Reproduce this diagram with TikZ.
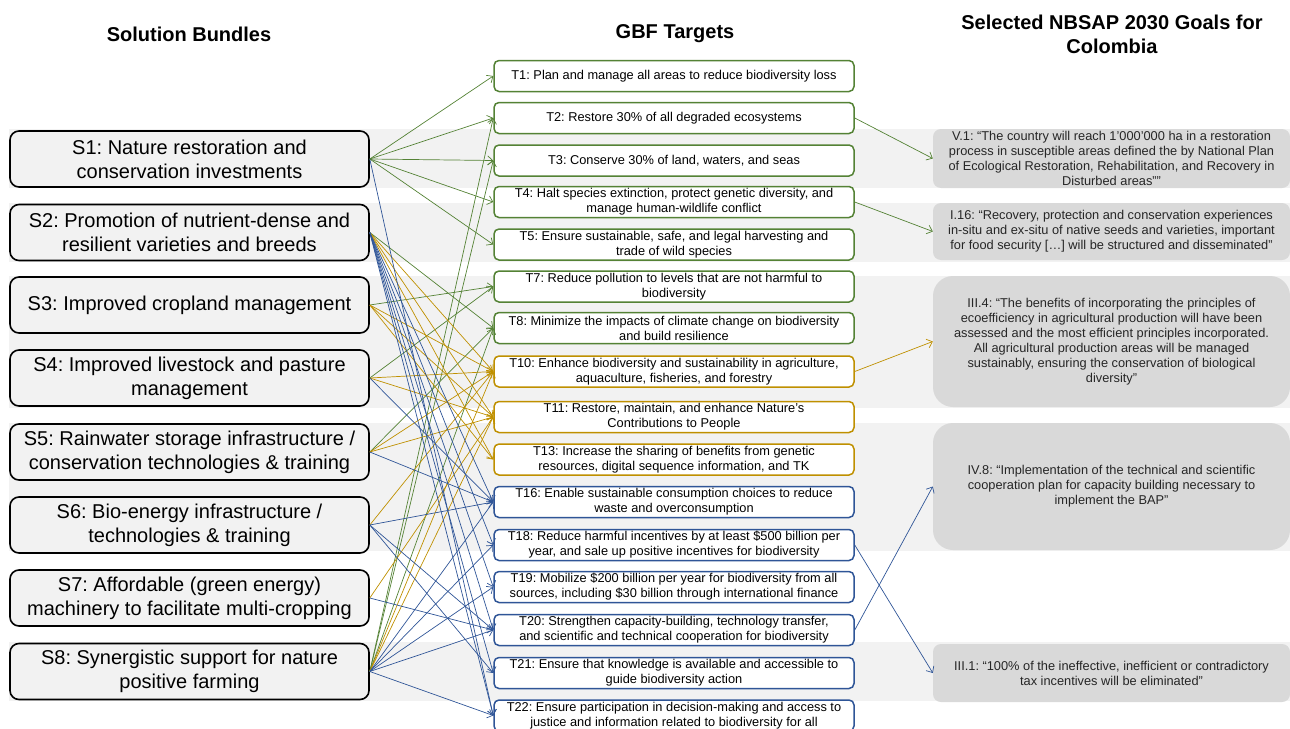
\documentclass[tikz,border=0pt]{standalone}
\usepackage{fontspec}
\setmainfont{Liberation Sans}
\usetikzlibrary{arrows.meta}
\frenchspacing

\definecolor{grn}{RGB}{84,130,53}
\definecolor{gld}{RGB}{191,144,0}
\definecolor{blu}{RGB}{47,85,151}
\definecolor{band}{RGB}{242,242,242}
\definecolor{goalfill}{RGB}{217,217,217}

\tikzset{
	bundle/.style={draw=black,line width=1.6pt,rounded corners=9pt,fill=band,
		minimum width=359pt,minimum height=56pt,align=center,inner sep=1pt,
		font=\fontsize{20}{24}\selectfont},
	target/.style={draw=#1,line width=1.5pt,rounded corners=5pt,fill=white,
		minimum width=360pt,minimum height=31pt,align=center,inner sep=1pt,
		font=\fontsize{12.8}{15}\selectfont},
	goal/.style={fill=goalfill,rounded corners=#1,minimum width=357pt,
		align=center,inner sep=1pt,text=black!85,
		font=\fontsize{12.8}{15}\selectfont},
	head/.style={font=\bfseries\fontsize{20}{24}\selectfont,align=center},
	link/.style={-{Straight Barb[length=5pt,width=9pt]},line width=0.7pt},
}

\begin{document}
\begin{tikzpicture}[x=1pt,y=-1pt]
	\useasboundingbox (0,0) rectangle (1290,728);

	% grey row bands
	\fill[band] (9,129) rectangle (1290,188);
	\fill[band] (9,203) rectangle (1290,262);
	\fill[band] (9,276) rectangle (1290,408);
	\fill[band] (9,423) rectangle (1290,551);
	\fill[band] (9,642) rectangle (1290,701);

	\node[head] (hs) at (189,34) {Solution Bundles};
	\node[head] (ht) at (675,34) {GBF Targets};
	\node[head] (hg) at (1112,34) {Selected NBSAP 2030 Goals for\\Colombia};

	% solution bundles
	\node[bundle] (s1) at (189.5,159) {S1: Nature restoration and\\conservation investments};
	\node[bundle] (s2) at (189.5,232.5) {S2: Promotion of nutrient-dense and\\resilient varieties and breeds};
	\node[bundle] (s3) at (189.5,305) {S3: Improved cropland management};
	\node[bundle] (s4) at (189.5,378) {S4: Improved livestock and pasture\\management};
	\node[bundle] (s5) at (189.5,452) {S5: Rainwater storage infrastructure /\\conservation technologies \& training};
	\node[bundle] (s6) at (189.5,525) {S6: Bio-energy infrastructure /\\technologies \& training};
	\node[bundle] (s7) at (189.5,598) {S7: Affordable (green energy)\\machinery to facilitate multi-cropping};
	\node[bundle] (s8) at (189.5,671.5) {S8: Synergistic support for nature\\positive farming};

	% GBF targets
	\node[target=grn] (t1) at (674,76) {T1: Plan and manage all areas to reduce biodiversity loss};
	\node[target=grn] (t2) at (674,118) {T2: Restore 30\% of all degraded ecosystems};
	\node[target=grn] (t3) at (674,160.5) {T3: Conserve 30\% of land, waters, and seas};
	\node[target=grn] (t4) at (674,202) {T4: Halt species extinction, protect genetic diversity, and\\manage human-wildlife conflict};
	\node[target=grn] (t5) at (674,244.5) {T5: Ensure sustainable, safe, and legal harvesting and\\trade of wild species};
	\node[target=grn] (t7) at (674,286.5) {T7: Reduce pollution to levels that are not harmful to\\biodiversity};
	\node[target=grn] (t8) at (674,328) {T8: Minimize the impacts of climate change on biodiversity\\and build resilience};
	\node[target=gld] (t10) at (674,371.5) {T10: Enhance biodiversity and sustainability in agriculture,\\aquaculture, fisheries, and forestry};
	\node[target=gld] (t11) at (674,417) {T11: Restore, maintain, and enhance Nature’s\\Contributions to People};
	\node[target=gld] (t13) at (674,459.5) {T13: Increase the sharing of benefits from genetic\\resources, digital sequence information, and TK};
	\node[target=blu] (t16) at (674,502) {T16: Enable sustainable consumption choices to reduce\\waste and overconsumption};
	\node[target=blu] (t18) at (674,545) {T18: Reduce harmful incentives by at least \$500 billion per\\year, and sale up positive incentives for biodiversity};
	\node[target=blu] (t19) at (674,587) {T19: Mobilize \$200 billion per year for biodiversity from all\\sources, including \$30 billion through international finance};
	\node[target=blu] (t20) at (674,630) {T20: Strengthen capacity-building, technology transfer,\\and scientific and technical cooperation for biodiversity};
	\node[target=blu] (t21) at (674,673) {T21: Ensure that knowledge is available and accessible to\\guide biodiversity action};
	\node[target=blu] (t22) at (674,715.5) {T22: Ensure participation in decision-making and access to\\justice and information related to biodiversity for all};

	% NBSAP goals
	\node[goal=8pt,minimum height=59pt] (v1) at (1111.5,158.5) {V.1: “The country will reach 1’000’000 ha in a restoration\\process in susceptible areas defined the by National Plan\\of Ecological Restoration, Rehabilitation, and Recovery in\\Disturbed areas””};
	\node[goal=8pt,minimum height=57pt] (i16) at (1111.5,231.5) {I.16: “Recovery, protection and conservation experiences\\in-situ and ex-situ of native seeds and varieties, important\\for food security […] will be structured and disseminated”};
	\node[goal=20pt,minimum height=131pt] (iii4) at (1111.5,341.5) {III.4: “The benefits of incorporating the principles of\\ecoefficiency in agricultural production will have been\\assessed and the most efficient principles incorporated.\\All agricultural production areas will be managed\\sustainably, ensuring the conservation of biological\\diversity”};
	\node[goal=20pt,minimum height=127pt] (iv8) at (1111.5,486.5) {IV.8: “Implementation of the technical and scientific\\cooperation plan for capacity building necessary to\\implement the BAP”};
	\node[goal=8pt,minimum height=58pt] (iii1) at (1111.5,673) {III.1: “100\% of the ineffective, inefficient or contradictory\\tax incentives will be eliminated”};

	% bundles to targets
	\foreach \s/\t in {s1/t1,s1/t2,s1/t3,s1/t4,s1/t5,s2/t8,s3/t7,s4/t7,s5/t8,s8/t2,s8/t3,s8/t8}
		\draw[link,grn] (\s.east) -- (\t.west);
	\foreach \s/\t in {s2/t10,s2/t11,s2/t13,s3/t10,s3/t11,s3/t13,s4/t10,s4/t11,s5/t10,s5/t11,s6/t10,s7/t11,s8/t10,s8/t11}
		\draw[link,gld] (\s.east) -- (\t.west);
	\foreach \s/\t in {s1/t22,s2/t16,s2/t18,s2/t19,s2/t20,s2/t21,s2/t22,s4/t16,s5/t16,s6/t16,s6/t20,s6/t21,s7/t20,s8/t16,s8/t18,s8/t19,s8/t20,s8/t22}
		\draw[link,blu] (\s.east) -- (\t.west);

	% targets to goals
	\draw[link,grn] (t2.east) -- (v1.west);
	\draw[link,grn] (t4.east) -- (i16.west);
	\draw[link,gld] (t10.east) -- (iii4.west);
	\draw[link,blu] (t20.east) -- (iv8.west);
	\draw[link,blu] (t18.east) -- (iii1.west);
\end{tikzpicture}
\end{document}
